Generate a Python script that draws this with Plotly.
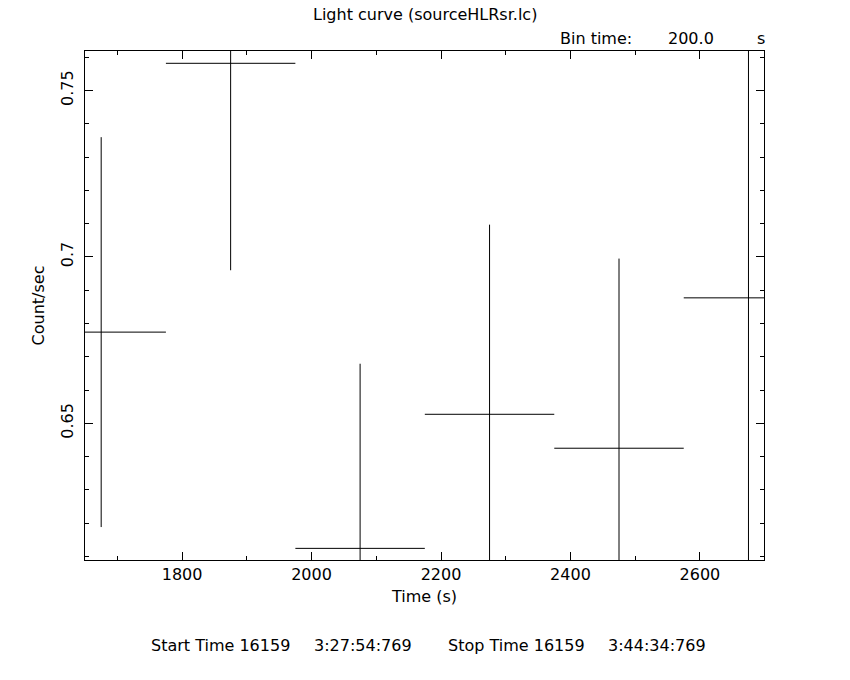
import plotly.graph_objects as go

# Data
time_s = [1675, 1875, 2075, 2275, 2475, 2675]
time_half_bin = [100, 100, 100, 100, 100, 100]
rate = [0.6774, 0.7582, 0.6124, 0.6527, 0.6425, 0.6877]
rate_err = [0.0586, 0.0622, 0.0555, 0.057, 0.057, 0.10]

title_text = "Light curve (sourceHLRsr.lc)"
bin_label = "Bin time:"
bin_value = "200.0"
bin_unit = "s"
start_label = "Start Time 16159"
start_clock = "3:27:54:769"
stop_label = "Stop Time 16159"
stop_clock = "3:44:34:769"

FONT = "DejaVu Sans"
W, H = 850, 680
L, R, T, B = 85, 764, 51, 560


def px(x):
    return (x - L) / (R - L)


def py(y):
    return (B - y) / (B - T)


fig = go.Figure()
fig.add_trace(go.Scatter(
    x=time_s, y=rate, mode="markers",
    marker=dict(size=0.1, color="black", opacity=0),
    error_x=dict(type="data", array=time_half_bin, width=0, thickness=1, color="black"),
    error_y=dict(type="data", array=rate_err, width=0, thickness=1, color="black"),
    showlegend=False, hoverinfo="skip",
))

axis_common = dict(
    showline=True, linecolor="black", linewidth=1, mirror="ticks",
    ticks="inside", tickcolor="black", tickwidth=1,
    showgrid=False, zeroline=False,
    tickfont=dict(family=FONT, size=16, color="black"),
)

fig.update_xaxes(
    range=[1650, 2699], tick0=1800, dtick=200, ticklen=8,
    minor=dict(dtick=100, tick0=1700, ticks="inside", ticklen=4, tickcolor="black", tickwidth=1, showgrid=False),
    title=dict(text="Time (s)", font=dict(family=FONT, size=16, color="black"), standoff=7),
    **axis_common,
)
fig.update_yaxes(
    range=[0.6089, 0.7619], tick0=0.65, dtick=0.05, ticklen=8, tickangle=-90,
    ticklabelstandoff=5,
    minor=dict(dtick=0.01, tick0=0.6, ticks="inside", ticklen=4, tickcolor="black", tickwidth=1, showgrid=False),
    title=dict(text="Count/sec", font=dict(family=FONT, size=16, color="black"), standoff=8),
    **axis_common,
)

ann = []
def add_text(text, x, y, xanchor="left"):
    ann.append(dict(text=text, x=px(x), y=py(y), xref="paper", yref="paper",
                    xanchor=xanchor, yanchor="middle", showarrow=False,
                    font=dict(family=FONT, size=16, color="black")))

add_text(title_text, 425, 15, "center")
add_text(bin_label, 558, 38)
add_text(bin_value, 666, 38)
add_text(bin_unit, 755, 38)
add_text(start_label, 149, 645)
add_text(start_clock, 312, 645)
add_text(stop_label, 446, 645)
add_text(stop_clock, 606, 645)

fig.update_layout(
    width=W, height=H,
    margin=dict(l=L, r=W - R, t=T, b=H - B, pad=0),
    paper_bgcolor="white", plot_bgcolor="white",
    annotations=ann,
    font=dict(family=FONT, size=16, color="black"),
)

fig.write_html("out.html", config={"displayModeBar": False},
               post_script="document.body.style.margin='0px';document.body.style.overflow='hidden';")
